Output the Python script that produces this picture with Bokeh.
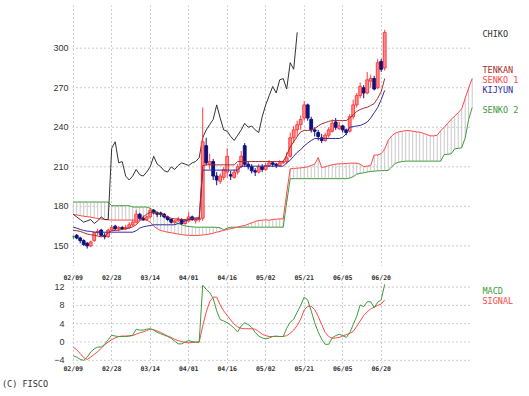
from bokeh.plotting import figure
from bokeh.layouts import column
from bokeh.models import Range1d, FixedTicker, LinearAxis, ColumnDataSource, Div
from bokeh.core.properties import value
from bokeh.embed import file_html
from bokeh.resources import INLINE

# ---------------- data ----------------
date_labels = ["02/09", "02/28", "03/14", "04/01", "04/16", "05/02", "05/21", "06/05", "06/20"]
date_pos = [0, 11, 22, 33, 44, 55, 66, 77, 88]
price_ticks = [150, 180, 210, 240, 270, 300]
macd_ticks = [-4, 0, 4, 8, 12]

opens = [157, 158, 156, 154, 152, 150, 154, 160, 162, 158, 157, 162, 165, 163, 164, 163, 164, 166, 168, 174,
         171, 170, 172, 177, 175, 175, 174, 172, 170, 168, 169, 170, 167, 169, 172, 169, 170, 171, 226, 212,
         214, 203, 199, 202, 206, 204, 202, 206, 210, 226, 212, 210, 207, 206, 210, 208, 211, 213, 212, 211,
         213, 214, 218, 232, 238, 242, 247, 257, 246, 238, 236, 232, 230, 234, 237, 244, 239, 241, 238, 237,
         248, 257, 264, 270, 266, 275, 277, 270, 290, 285]
highs = [158, 159, 157, 155, 153, 154, 161, 163, 163, 160, 163, 166, 166, 165, 165, 166, 168, 170, 177, 175,
         173, 173, 179, 178, 176, 176, 175, 173, 171, 170, 172, 171, 170, 176, 173, 171, 172, 255, 232, 220,
         216, 206, 205, 210, 224, 207, 208, 212, 222, 228, 214, 212, 209, 212, 212, 213, 215, 214, 213, 215,
         215, 221, 236, 241, 245, 249, 260, 258, 248, 240, 238, 235, 236, 240, 246, 247, 244, 242, 239, 250,
         261, 266, 274, 272, 282, 280, 279, 292, 292, 314]
lows = [155, 155, 152, 150, 148, 149, 153, 158, 157, 155, 156, 161, 162, 161, 162, 162, 163, 165, 167, 170,
        169, 169, 171, 174, 172, 172, 171, 169, 167, 166, 168, 166, 166, 168, 169, 167, 168, 169, 211, 208,
        200, 196, 197, 200, 202, 200, 201, 204, 209, 210, 208, 205, 203, 205, 206, 207, 210, 210, 209, 210,
        212, 212, 217, 228, 233, 238, 245, 245, 236, 233, 230, 228, 229, 232, 236, 238, 238, 236, 234, 236,
        246, 255, 262, 262, 265, 270, 268, 269, 282, 283]
closes = [157, 156, 154, 151, 150, 153, 160, 161, 158, 157, 162, 164, 163, 164, 163, 164, 166, 168, 174, 171,
          170, 172, 177, 175, 174, 174, 172, 170, 168, 169, 170, 167, 169, 172, 170, 170, 171, 229, 213, 214,
          203, 200, 203, 208, 218, 203, 206, 210, 218, 212, 210, 207, 206, 210, 208, 211, 213, 212, 211, 213,
          214, 217, 232, 238, 242, 246, 257, 247, 238, 237, 233, 230, 234, 238, 243, 240, 241, 238, 236, 248,
          257, 264, 271, 266, 276, 277, 269, 289, 284, 312]

chiko = [174, 172, 170, 168, 169, 170, 167, 169, 172, 170, 170, 224, 229, 213, 214, 203, 200, 203, 208, 204,
         203, 206, 210, 218, 212, 210, 207, 206, 210, 208, 211, 213, 212, 211, 213, 214, 217, 232, 238, 242,
         246, 257, 247, 238, 237, 233, 230, 234, 238, 243, 240, 241, 238, 236, 248, 257, 264, 271, 266, 276,
         277, 269, 289, 284, 312]

tenkan = [161.7, 161.5, 161, 160, 159, 158.5, 158, 157.5, 156.8, 157.5, 160, 161.5, 161.7, 162, 162.5, 163,
          163.5, 164.5, 166, 169, 172, 174, 175.5, 175.5, 175, 174, 173, 172, 171, 170.5, 170.5, 170, 170,
          170.5, 171, 171.3, 171.3, 211, 211.5, 211.5, 211.5, 211.5, 211.5, 211.5, 211.5, 211.5, 211.5, 214,
          214, 214, 214, 214, 214, 214, 214, 214, 214, 214, 214, 214, 214, 219, 225, 229, 233, 236.5, 237.6,
          237.6, 238, 239, 241, 242.6, 243.5, 244.5, 245, 245.1, 245.1, 245.1, 245.1, 247, 249.5, 252, 253.5,
          254.5, 255.2, 256.5, 258, 262, 267, 277]
kijun = [164.2, 163.5, 162.5, 161.7, 161.2, 161, 160.4, 160.4, 160.4, 160.4, 160.4, 160.4, 160.4, 160.4,
         160.4, 160.4, 160.4, 160.4, 161.5, 163.5, 164.5, 165, 165.5, 166, 166, 166, 166, 166, 166, 166, 167,
         168, 169, 170, 170.5, 170.5, 170.5, 207.5, 207.5, 207.5, 207.5, 207.5, 207.5, 207.5, 207.5, 207.5,
         207.5, 207.5, 210.5, 210.5, 210.5, 210.5, 210.5, 210.5, 210.5, 210.5, 210.5, 210.5, 210.5, 210.5,
         210.5, 213, 215, 218, 221, 223, 226, 228, 230, 231.5, 231.5, 231.5, 231.5, 231.5, 231.5, 231.5,
         231.5, 232.5, 235, 240, 240.5, 241, 241.4, 242.5, 244, 247, 251, 255, 261, 268]
senko1 = [173.8, 173.5, 173, 172.5, 172.2, 171.8, 171.3, 170.8, 170.4, 170, 169.8, 169.6, 169.6, 169.6,
          169.6, 169.6, 169.6, 169.6, 169.6, 169.6, 169.6, 169.6, 168, 165, 163, 161.7, 161, 160.4, 160,
          159.5, 159, 158.6, 158.2, 158, 157.9, 157.9, 158, 158.3, 158.6, 159, 159.6, 160.4, 161, 161.8,
          162.5, 163, 163.6, 164.3, 165, 165.5, 166.5, 167.5, 168.5, 169.3, 169.5, 169.8, 169.5, 170, 170.3,
          170.5, 170.5, 190, 208.5, 208.8, 209, 209.2, 209.5, 210, 211, 212, 217, 209.5, 210, 211, 211.5, 212,
          212.3, 212.3, 212.5, 212.8, 212.8, 212.8, 212, 210.2, 210.5, 211, 219, 219, 220, 223.5, 230, 233.5,
          235.5, 236.5, 237, 237.5, 237.5, 237, 236.5, 236.3, 235.5, 234.5, 233.5, 233.5, 234, 237.5, 240,
          243, 246, 248.5, 251, 254, 262, 270, 277]
senko2 = [183.3, 183.3, 183.3, 183.3, 183.3, 183.3, 183.3, 183.3, 183.3, 183.3, 183.3, 180.5, 180.5, 180.5,
          180.5, 180.5, 180.5, 179.5, 179.5, 179.5, 179.5, 179.5, 178.5, 177, 175.6, 174, 172, 170.5, 169.2,
          168, 167, 166, 165.2, 164.7, 164.5, 164.2, 164.2, 164.2, 164.2, 164.2, 164.2, 164, 163.7, 162.2,
          163.5, 164.2, 164.2, 164.2, 164.2, 164.2, 164.2, 164.2, 164.2, 164.2, 164.2, 164.2, 164.2, 164.2,
          164.2, 164.2, 164.2, 183, 201, 201, 201, 201, 201, 201, 201, 201, 201, 201, 201, 201, 201, 201, 201,
          201, 201, 201.5, 202.5, 204.5, 205, 205.5, 206, 206.5, 206.7, 207, 207, 207.2, 207.2, 210, 212.5,
          213.5, 214, 214.3, 214.3, 214.3, 214.3, 214.3, 214.3, 214.3, 214.3, 214.3, 214.3, 214.3, 219.3,
          219.5, 219.8, 223.7, 224, 224.4, 232, 246, 255]

macd = [-3.0, -3.3, -3.8, -4.0, -3.3, -2.2, -1.5, -1.1, -1.1, -0.5, 0.5, 1.5, 1.3, 1.2, 1.2, 1.2, 1.3, 1.5,
        2.8, 2.6, 2.6, 2.8, 2.9, 2.6, 2.1, 1.8, 1.5, 1.2, 0.8, 0.2, -0.4, -0.4, 0.0, 0.3, 0.1, 0.0, 0.0, 12.4,
        11.5, 10.8, 9.5, 6.8, 4.9, 4.6, 4.2, 3.7, 3.0, 2.2, 3.5, 4.2, 3.8, 3.2, 2.1, 1.3, 0.9, 0.7, 0.9, 1.2,
        1.3, 1.2, 1.2, 3.0, 4.3, 5.0, 6.5, 8.0, 9.8, 9.2, 6.8, 4.2, 2.2, 0.6, -0.5, -0.5, 0.9, 1.4, 1.7, 1.4,
        1.0, 2.0, 3.8, 5.6, 8.1, 7.7, 8.8, 8.8, 7.5, 8.7, 9.2, 12.6]
signal = [-1.1, -1.7, -2.5, -3.4, -3.8, -3.3, -2.7, -2.1, -1.4, -0.6, 0.0, 0.5, 0.9, 1.2, 1.3, 1.3, 1.35,
          1.4, 1.7, 2.0, 2.2, 2.5, 2.8, 2.7, 2.4, 2.1, 1.7, 1.3, 1.0, 0.6, 0.3, 0.1, -0.1, -0.2, -0.1, -0.06,
          -0.06, 3.5, 6.5, 8.8, 9.8, 9.8, 8.1, 6.8, 5.8, 4.8, 3.9, 3.3, 3.0, 2.9, 2.9, 2.9, 2.8, 2.3, 1.7, 1.4,
          1.2, 1.2, 1.2, 1.2, 1.2, 1.4, 1.9, 2.6, 3.6, 5.0, 7.0, 7.8, 7.8, 7.1, 5.6, 3.8, 2.1, 1.2, 0.8, 0.9,
          1.0, 1.3, 1.6, 1.9, 2.3, 3.4, 4.6, 5.8, 6.6, 7.2, 7.6, 8.0, 8.3, 9.2]

main_legend = ["CHIKO", "TENKAN", "SENKO 1", "KIJYUN", "SENKO 2"]
macd_legend = ["MACD", "SIGNAL"]

# ---------------- style ----------------
C_TENKAN = "#a82c2c"
C_SENKO1 = "#ff4848"
C_KIJUN = "#2c2ca0"
C_SENKO2 = "#3c9c3c"
C_CHIKO = "#333333"
C_UP_FILL = "#ff8c8c"
C_UP_LINE = "#ff3c3c"
C_DOWN = "#10107e"
C_FLAT = "#1f8a1f"
C_GRID = "#9a9a9a"
MONO = "DejaVu Sans Mono"

W = 529
LEFT = 72
PX_PER_DAY = 3.5
X0 = -0.2
GRID_END = X0 + 400 / PX_PER_DAY
X_END = X0 + (W - LEFT) / PX_PER_DAY


def px_x(px):
    return X0 + (px - LEFT) / PX_PER_DAY


def style_common(fig):
    fig.outline_line_color = None
    fig.background_fill_color = "white"
    fig.border_fill_color = "white"
    fig.xgrid.ticker = FixedTicker(ticks=date_pos)
    fig.xgrid.grid_line_color = C_GRID
    fig.xgrid.grid_line_dash = "1 3"
    fig.ygrid.grid_line_color = None
    ya = fig.yaxis[0]
    ya.axis_line_color = None
    ya.major_tick_line_color = None
    ya.minor_tick_line_color = None
    ya.major_tick_out = 0
    ya.major_tick_in = 0
    ya.minor_tick_out = 0
    ya.minor_tick_in = 0
    ya.major_label_text_font = "Liberation Sans"
    ya.major_label_text_font_size = "9px"
    ya.major_label_text_color = "#333333"


def hgrid(fig, ticks):
    fig.segment(x0=[X0] * len(ticks), y0=ticks, x1=[GRID_END] * len(ticks), y1=ticks,
                line_color=C_GRID, line_dash="1 3", line_width=1)


def style_date_axis(ax):
    ax.ticker = FixedTicker(ticks=date_pos)
    ax.major_label_overrides = {p: l for p, l in zip(date_pos, date_labels)}
    ax.axis_line_color = None
    ax.major_tick_line_color = None
    ax.minor_tick_line_color = None
    ax.major_tick_out = 0
    ax.major_tick_in = 0
    ax.minor_tick_out = 0
    ax.minor_tick_in = 0
    ax.major_label_text_font = MONO
    ax.major_label_text_font_size = "6.5px"
    ax.major_label_text_font_style = "bold"
    ax.major_label_text_color = "#333333"


# ---------------- main (ichimoku) ----------------
Y_TOP, Y_BOT = 332.40, 134.37
MAIN_TOP_PX, MAIN_FRAME_H = 5, 261
p = figure(width=W, height=266, x_range=Range1d(X0, X_END), y_range=Range1d(Y_BOT, Y_TOP),
           output_backend="svg", toolbar_location=None,
           min_border_left=LEFT, min_border_right=0, min_border_top=MAIN_TOP_PX, min_border_bottom=0)
p.xaxis.visible = False
style_common(p)
p.yaxis.ticker = FixedTicker(ticks=price_ticks)
p.yaxis.major_label_standoff = 4
hgrid(p, price_ticks)


def main_y(py):
    return Y_TOP - (py - MAIN_TOP_PX) * (Y_TOP - Y_BOT) / MAIN_FRAME_H


xs_fwd = list(range(len(senko1)))
p.segment(x0=xs_fwd, y0=senko1, x1=xs_fwd, y1=senko2, line_color="#c8c8c8", line_width=1)
p.line(xs_fwd, senko2, line_color=C_SENKO2, line_width=1)
p.line(xs_fwd, senko1, line_color=C_SENKO1, line_width=1)

p.line(list(range(len(chiko))), chiko, line_color=C_CHIKO, line_width=1)

idx = list(range(len(closes)))
wick_col, body_fill, body_line = [], [], []
for o, c in zip(opens, closes):
    if c > o:
        wick_col.append(C_UP_LINE); body_fill.append(C_UP_FILL); body_line.append(C_UP_LINE)
    elif c < o:
        wick_col.append(C_DOWN); body_fill.append(C_DOWN); body_line.append(C_DOWN)
    else:
        wick_col.append(C_FLAT); body_fill.append(C_FLAT); body_line.append(C_FLAT)
src = ColumnDataSource(dict(x=idx, h=highs, l=lows,
                            top=[max(a, b) for a, b in zip(opens, closes)],
                            bot=[min(a, b) for a, b in zip(opens, closes)],
                            wc=wick_col, bf=body_fill, bl=body_line))
p.segment(x0="x", y0="h", x1="x", y1="l", line_color="wc", line_width=1, source=src)
p.vbar(x="x", width=0.8, top="top", bottom="bot", fill_color="bf", line_color="bl", line_width=1, source=src)

p.line(idx, kijun, line_color=C_KIJUN, line_width=1)
p.line(idx, tenkan, line_color=C_TENKAN, line_width=1)

leg_py = [33, 69.7, 79.7, 89.7, 109.3]
leg_col = [C_CHIKO, C_TENKAN, C_SENKO1, C_KIJUN, C_SENKO2]
p.text(x=[px_x(482)] * len(main_legend), y=[main_y(v) for v in leg_py], text=main_legend,
       text_color=leg_col, text_font=value(MONO), text_font_size="8.5px",
       text_baseline="middle", text_align="left")

# ---------------- MACD ----------------
M_TOP, M_BOT = 13.43, -4.69
M_FRAME_TOP, M_FRAME_H = 14, 85
q = figure(width=W, height=109, x_range=p.x_range, y_range=Range1d(M_BOT, M_TOP),
           output_backend="svg", toolbar_location=None, x_axis_location="above",
           min_border_left=LEFT, min_border_right=0, min_border_top=M_FRAME_TOP, min_border_bottom=10)
style_common(q)
q.yaxis.ticker = FixedTicker(ticks=macd_ticks)
q.yaxis.major_label_standoff = 8
style_date_axis(q.xaxis[0])
q.xaxis[0].major_label_standoff = -1
bottom_ax = LinearAxis()
style_date_axis(bottom_ax)
bottom_ax.major_label_standoff = 1
q.add_layout(bottom_ax, "below")
hgrid(q, macd_ticks)

q.line(idx, signal, line_color=C_SENKO1, line_width=1)
q.line(idx, macd, line_color=C_SENKO2, line_width=1)


def macd_y(py):
    return M_TOP - (py - 280) * (M_TOP - M_BOT) / M_FRAME_H


q.text(x=[px_x(482)] * 2, y=[macd_y(290.7), macd_y(300.7)], text=macd_legend,
       text_color=[C_SENKO2, C_SENKO1], text_font=value(MONO), text_font_size="8.5px",
       text_baseline="middle", text_align="left")

credit = Div(text='<div style="font-family:\'DejaVu Sans Mono\',monospace;font-size:8.5px;color:#333333;'
                  'line-height:14px;padding-left:2px;white-space:nowrap;">(C) FISCO</div>',
             width=120, height=14, margin=(0, 0, 0, 0))

layout = column(p, q, credit, spacing=0)
open("out.html", "w").write(file_html(layout, INLINE))
